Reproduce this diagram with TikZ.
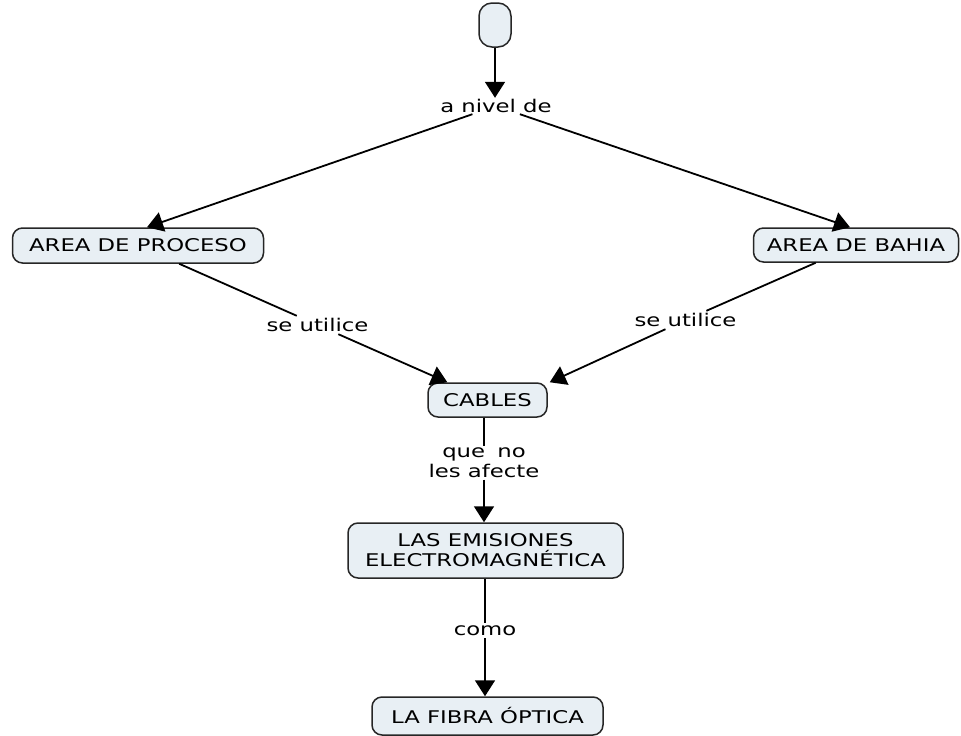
\documentclass[tikz,border=0pt]{standalone}
\usepackage{fontspec}
\setmainfont[FakeStretch=1.3]{DejaVu Sans}
\usetikzlibrary{arrows.meta}
\tikzset{
  concept/.style={draw=black!85, line width=1.5pt, fill=cmapfill, rounded corners=10pt,
    inner sep=0pt, align=center, font=\fontsize{17.5}{20}\selectfont},
  linklabel/.style={inner sep=0pt, align=center, font=\fontsize{17.5}{20}\selectfont},
  link/.style={line width=1.8pt, draw=black},
  linkarrow/.style={link, -{Triangle[width=20pt,length=16pt]}}
}
\definecolor{cmapfill}{RGB}{232,239,244}
\begin{document}
\begin{tikzpicture}[x=1pt,y=1pt]
  \useasboundingbox (0,0) rectangle (961,-736);

  % concepts
  \node[concept, rounded corners=13pt, minimum width=32pt, minimum height=44pt] (top) at (495,-25) {};
  \node[concept, minimum width=251pt, minimum height=35pt] (proc) at (138,-245.5) {AREA DE PROCESO};
  \node[concept, minimum width=205pt, minimum height=34pt] (bahia) at (856,-245) {AREA DE BAHIA};
  \node[concept, minimum width=119pt, minimum height=34pt] (cables) at (487.5,-400) {CABLES};
  \node[concept, minimum width=275pt, minimum height=55pt] (emis) at (485.5,-550.5) {LAS EMISIONES\\ELECTROMAGNÉTICA};
  \node[concept, minimum width=231pt, minimum height=38pt] (fibra) at (487.5,-716) {LA FIBRA ÓPTICA};

  % linking phrases
  \node[linklabel, minimum height=16pt] (nivel) at (496,-106) {a nivel de};
  \node[linklabel, minimum height=18pt] (utilL) at (317.5,-325) {se utilice};
  \node[linklabel, minimum height=18pt] (utilR) at (685.5,-320) {se utilice};
  \node[linklabel, minimum height=33pt] (afecte) at (484,-463) {que\hspace{0.7em}no\\les afecte};
  \node[linklabel, minimum height=15pt] (como) at (485,-630.5) {como};

  % connections
  \draw[linkarrow] (top.south) -- (top.south |- nivel.north);
  \draw[linkarrow] (nivel) -- ([xshift=9pt]proc.north);
  \draw[linkarrow] (nivel) -- ([xshift=-6pt]bahia.north);

  \draw[link] (proc) -- (utilL);
  \draw[linkarrow] (utilL) -- (cables);
  \draw[link] (bahia) -- (utilR);
  \draw[linkarrow] (utilR) -- ([xshift=2pt]cables.north east);

  \draw[link] (cables.south -| afecte.north) -- (afecte.north);
  \draw[linkarrow] (afecte.south) -- (afecte.south |- emis.north);

  \draw[link] (emis.south -| como.north) -- (como.north);
  \draw[linkarrow] (como.south) -- (como.south |- fibra.north);
\end{tikzpicture}
\end{document}
